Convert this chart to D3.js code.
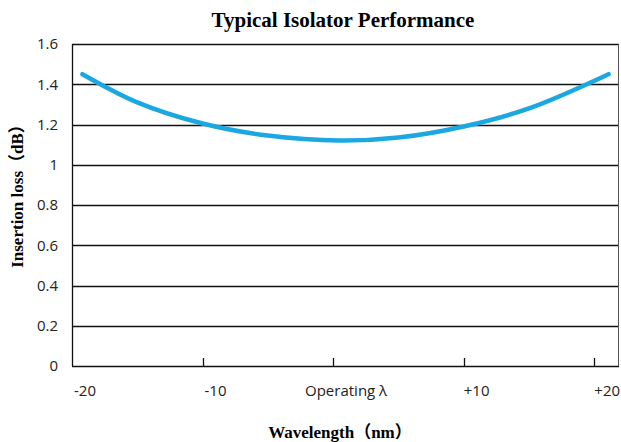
<html>
<head>
<style>
  body { margin: 0; background: #fff; }
  .tick-label { font-family: "Open Sans", "Liberation Sans", sans-serif; font-size: 15px; fill: #222; }
  .title { font-family: "Liberation Serif", "Noto Sans CJK SC", serif; font-weight: bold; }
</style>
</head>
<body>
<svg id="chart"></svg>
<script src="https://d3js.org/d3.v7.min.js"></script>
<script>
var width = 621, height = 442;
var margin = {top: 44, right: 2, bottom: 76, left: 72};

// data
var wavelength = [-19.2, -15, -10, -5, 0.5, 5, 10, 15, 21.1];
var loss = [1.45, 1.31, 1.205, 1.145, 1.12, 1.135, 1.19, 1.28, 1.45];
var xTicks = [-20, -10, 0, 10, 20];
var xTickLabels = ["-20", "-10", "Operating \u03bb", "+10", "+20"];
var yTicks = [0, 0.2, 0.4, 0.6, 0.8, 1, 1.2, 1.4, 1.6];

var svg = d3.select("#chart").attr("width", width).attr("height", height);

var plotW = width - margin.left - margin.right;
var plotH = height - margin.top - margin.bottom;

var x = d3.scaleLinear().domain([-20, 21.9]).range([0, plotW]);
var y = d3.scaleLinear().domain([0, 1.6]).range([plotH, 0]);

var g = svg.append("g").attr("transform", "translate(" + margin.left + "," + margin.top + ")");

// horizontal grid lines
g.append("g").selectAll("line")
    .data(yTicks)
    .enter().append("line")
    .attr("x1", 0).attr("x2", plotW)
    .attr("y1", function(d) { return Math.round(y(d)) + 0.5; })
    .attr("y2", function(d) { return Math.round(y(d)) + 0.5; })
    .attr("stroke", "#111").attr("stroke-width", 1.3);

// frame: left and right edge
g.append("line").attr("x1", 0.5).attr("x2", 0.5).attr("y1", 0).attr("y2", plotH)
    .attr("stroke", "#111").attr("stroke-width", 1.3);
g.append("line").attr("x1", plotW - 0.5).attr("x2", plotW - 0.5).attr("y1", 0).attr("y2", plotH)
    .attr("stroke", "#555").attr("stroke-width", 1);

// y tick labels
g.append("g").selectAll("text")
    .data(yTicks)
    .enter().append("text")
    .attr("class", "tick-label")
    .attr("x", -14)
    .attr("y", function(d) { return y(d); })
    .attr("dy", "0.35em")
    .attr("text-anchor", "end")
    .text(function(d) { return d; });

// x ticks (inside, upward)
g.append("g").selectAll("line")
    .data(xTicks.slice(1))
    .enter().append("line")
    .attr("x1", function(d) { return Math.round(x(d)) + 0.5; })
    .attr("x2", function(d) { return Math.round(x(d)) + 0.5; })
    .attr("y1", plotH).attr("y2", plotH - 8)
    .attr("stroke", "#111").attr("stroke-width", 1.3);

g.append("g").selectAll("text")
    .data(xTicks)
    .enter().append("text")
    .attr("class", "tick-label")
    .attr("x", function(d) { return x(d) + 13; })
    .attr("y", plotH + 30)
    .attr("text-anchor", "middle")
    .text(function(d, i) { return xTickLabels[i]; });

// curve
var line = d3.line()
    .x(function(d, i) { return x(wavelength[i]); })
    .y(function(d) { return y(d); })
    .curve(d3.curveCatmullRom);

g.append("path")
    .datum(loss)
    .attr("d", line)
    .attr("fill", "none")
    .attr("stroke", "#1ba8e2")
    .attr("stroke-width", 4.5)
    .attr("stroke-linecap", "round");

// titles
svg.append("text").attr("class", "title")
    .attr("x", 343).attr("y", 27)
    .attr("text-anchor", "middle")
    .style("font-size", "21px")
    .text("Typical Isolator Performance");

svg.append("text").attr("class", "title")
    .attr("x", 340).attr("y", 438)
    .attr("text-anchor", "middle")
    .style("font-size", "17px")
    .text("Wavelength\uff08nm\uff09");

svg.append("text").attr("class", "title")
    .attr("transform", "translate(23,192) rotate(-90)")
    .attr("text-anchor", "middle")
    .style("font-size", "17px")
    .text("Insertion loss\uff08dB\uff09");
</script>
</body>
</html>
